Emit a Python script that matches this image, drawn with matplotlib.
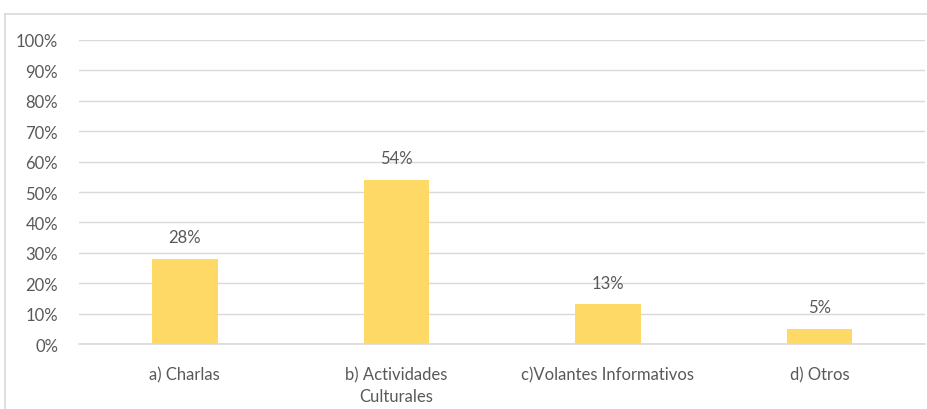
import matplotlib.pyplot as plt
from matplotlib.lines import Line2D

categorias = ['a) Charlas', 'b) Actividades\nCulturales', 'c)Volantes Informativos', 'd) Otros']
valores = [0.28, 0.54, 0.13, 0.05]
etiquetas = ['28%', '54%', '13%', '5%']

plt.rcParams['font.family'] = ['Lato', 'DejaVu Sans']
gris = '#595959'

fig = plt.figure(figsize=(9.27, 4.10), dpi=100)
ax = fig.add_axes([0.0852, 0.1585, 0.913, 0.7415])

x = range(len(categorias))
ax.bar(x, valores, width=0.31, color='#FFD966', zorder=2)
for i, v in enumerate(valores):
    ax.text(i, v + 0.045, etiquetas[i], ha='center', va='bottom', fontsize=12, color=gris)

ax.set_xlim(-0.5, len(categorias) - 0.5)
ax.set_ylim(0, 1)
ax.set_yticks([i / 10 for i in range(11)])
ax.set_yticklabels([f'{i * 10}%' for i in range(11)])
ax.yaxis.grid(True, color='#D9D9D9', linewidth=1, zorder=0)
ax.axhline(0, color='#D9D9D9', linewidth=1.2, zorder=3, clip_on=False)
ax.set_xticks(list(x))
ax.set_xticklabels(categorias, linespacing=1.45)
ax.tick_params(axis='both', length=0, labelsize=12, colors=gris)
ax.tick_params(axis='x', pad=16)
ax.tick_params(axis='y', pad=15)
for s in ax.spines.values():
    s.set_visible(False)

# borde del grafico
fig.add_artist(Line2D([5 / 927, 5 / 927], [0, 1 - 15 / 410], color='#D9D9D9', lw=1.2))
fig.add_artist(Line2D([5 / 927, 1], [1 - 15 / 410, 1 - 15 / 410], color='#D9D9D9', lw=1.2))

fig.savefig('out.png', dpi=100)
